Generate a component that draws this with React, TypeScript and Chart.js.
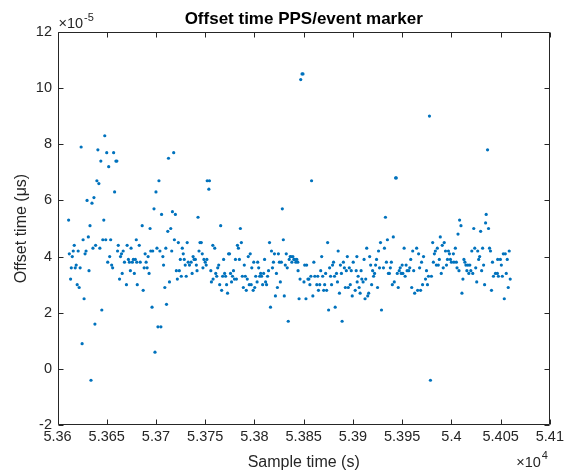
import React, { useEffect, useRef } from 'react';
import { Chart, registerables } from 'chart.js';

Chart.register(...registerables);

const chartTitle = 'Offset time PPS/event marker';
const xAxisLabel = 'Sample time (s)';
const yAxisLabel = 'Offset time (μs)';
const xTickValues = [53600, 53650, 53700, 53750, 53800, 53850, 53900, 53950, 54000, 54050, 54100];
const yTickValues = [-2, 0, 2, 4, 6, 8, 10, 12];
const xExponent = '4';
const yExponent = '-5';

// Sample time (s)
const sampleTime = [
  53611.3, 53612, 53613.3, 53614, 53615, 53616, 53617, 53618, 53619, 53620, 53621, 53622, 53623, 53624, 53625,
  53626, 53627, 53628, 53629, 53630, 53631.3, 53632, 53633, 53634, 53635, 53636, 53637, 53638, 53638.7, 53640,
  53641, 53642, 53643, 53644, 53645, 53646, 53647, 53648, 53649, 53650, 53651, 53652, 53653, 53654, 53655,
  53656, 53657, 53658, 53659.3, 53660.3, 53661, 53661.7, 53663, 53664, 53665, 53665.7, 53666.7, 53668, 53670, 53670.7,
  53672, 53673, 53674, 53674.7, 53676, 53677, 53678, 53679, 53680, 53680.5, 53681,
  53683, 53684, 53686, 53687, 53688, 53689, 53690, 53691, 53692, 53693, 53694, 53694.7, 53696, 53696.7, 53698,
  53699, 53700, 53701, 53702, 53703, 53704, 53705, 53705.7, 53707, 53707.7, 53709, 53710, 53710.7, 53712, 53712.7,
  53713.7, 53715, 53716, 53716.7, 53718, 53718.7, 53719.7, 53720.7, 53721.7, 53722.7, 53723.7, 53724.7, 53725.7, 53726.7, 53727.7,
  53728.7, 53729.7, 53730.7, 53731.7, 53732.7, 53734, 53735.7, 53736.7, 53737.7, 53738.7, 53740, 53741, 53741.7, 53742.7, 53743.7,
  53744.7, 53746, 53747, 53747.7, 53748.7, 53750, 53751, 53751.7, 53752, 53753.7, 53754.3, 53755.7, 53756.3, 53757.7, 53758,
  53759.7, 53760.7, 53761.7, 53762.7, 53763.7, 53764.7, 53765.7, 53766.7, 53767.7, 53768.7, 53769.7, 53770.7, 53771.7, 53772.7, 53773.7,
  53774.7, 53775.7, 53776.7, 53777.7, 53778.7, 53779.7, 53780.7, 53781.7, 53782.7, 53783.7, 53784.7, 53785.7, 53786.7, 53787.7, 53788.7,
  53789.7, 53790.7, 53791.7, 53792.7, 53793.7, 53794.7, 53795.7, 53796.7, 53797.3, 53798.7, 53799.3, 53800.3, 53801.3, 53802.7, 53803.3,
  53804.3, 53805.3, 53806.3, 53807.3, 53808.3, 53809.3, 53810.3, 53811.3, 53812.3, 53813.3, 53814.3, 53815.3, 53816.3, 53817.3, 53818.3,
  53819.3, 53820.3, 53821.3, 53822.3, 53823.3, 53824.3, 53825.3, 53826.3, 53827.3, 53828.3, 53829.3, 53830.3, 53831.3, 53832.3, 53833.3,
  53834.3, 53835.3, 53836.3,
  53837, 53838, 53839, 53840, 53841, 53842, 53843, 53844, 53844.3, 53845.3, 53846.3, 53847, 53848.3, 53849.3, 53850.3,
  53851, 53852.3, 53853, 53854.3, 53855.3, 53856.3, 53857.3, 53858, 53859.3, 53860.3, 53861.3, 53863.3, 53864.3, 53865, 53866.3,
  53867.3, 53868.3, 53869.3, 53870.3, 53871.3, 53872.3, 53873.3, 53874.3, 53875.3, 53876.3, 53877.3, 53878.3, 53879.3, 53880.3, 53881.3,
  53882, 53883.3, 53884.3, 53885, 53886.3, 53887.3, 53888.3, 53889, 53890.3, 53891.3, 53892.3, 53893.3, 53894.3, 53895.3, 53896.3,
  53897.3, 53898.3, 53899.3, 53900.3, 53902.3, 53903.3, 53904, 53904.3, 53905.3, 53906.3, 53907.3, 53908.3, 53909, 53910.3, 53911.3,
  53912.3, 53913, 53914,
  53915, 53916, 53917, 53918, 53919, 53920, 53921, 53922, 53923, 53924, 53925, 53926, 53927, 53928, 53929,
  53931, 53932, 53933, 53934, 53935, 53936, 53937, 53938, 53939, 53940, 53941, 53942, 53943.3, 53944, 53945,
  53946, 53947, 53948, 53949, 53950, 53950.7, 53952, 53953, 53954, 53955, 53956.7, 53957.7, 53958.7, 53959.7, 53960.7,
  53961.7, 53962.7, 53964.7, 53965.7, 53966.7, 53967.7, 53968.7, 53969.7, 53970.7, 53971.7, 53973.7, 53974.7, 53975.7, 53976.7, 53977.7,
  53978.7, 53979.7, 53981, 53981.7, 53982.7, 53983.7, 53984.7, 53985.7, 53986.7, 53987.7, 53988.7, 53989.7, 53990.7, 53991.7, 53992.7,
  53994, 53995, 53996, 53997, 53998, 53999, 54000, 54002, 54002.5, 54004, 54005, 54005.7, 54006.7, 54007.7, 54008.3,
  54009.7, 54010.7, 54011.7, 54012.7, 54013.7, 54014.7, 54015.7, 54016.7, 54017.7, 54018.7, 54019.7, 54020.7, 54021.7, 54022.7, 54023.7,
  54024.7, 54025.7, 54026.7, 54027.7, 54028.7, 54029.7, 54030.7, 54031.7, 54032.7, 54033.7, 54034.7, 54035.3, 54036.7, 54037.7, 54038.7,
  54039.7, 54040.7, 54041.7, 54042.7, 54044.7, 54046.7, 54047, 54047.7, 54049.7, 54050.7, 54051.7, 54052.7, 54053.7, 54054.7, 54055.7,
  54056.7, 54057.7, 54058.7, 54059.7,
];

// Offset time (×1e-5 s)
const offsetTime = [
  5.3, 4.1, 3.2, 3.6, 4.0, 4.2, 4.4, 3.6, 3.7, 3.0, 4.2, 2.9, 3.6, 7.9, 0.9,
  4.6, 2.5, 4.1, 4.2, 6.0, 4.7, 3.5, 5.1, -0.4, 5.9, 4.3, 6.1, 1.6, 4.4, 6.7,
  7.8, 6.6, 4.3, 7.4, 2.1, 4.6, 5.3, 8.3, 4.6, 7.7, 3.8, 7.2, 4.0, 4.6, 3.7,
  3.6, 7.7, 6.3, 7.4, 7.4, 4.2, 4.4, 3.2, 4.0, 4.1, 3.4, 4.2, 3.8, 3.0, 4.4,
  3.9, 3.8, 3.5, 4.3, 3.8, 3.9, 3.4, 3.9, 4.6, 3.8, 3.0,
  4.4, 3.8, 5.1, 2.8, 3.6, 4.1, 3.8, 3.6, 4.0, 3.4, 5.0, 4.2, 2.2, 4.2, 5.7,
  0.6, 6.3, 4.3, 1.5, 6.7, 4.2, 1.5, 5.5, 4.0, 3.7, 2.9, 4.3, 2.3, 4.9, 7.5,
  3.1, 5.0, 4.2, 5.6, 7.7, 4.6, 5.5, 3.5, 3.2, 4.5, 3.5, 3.9, 3.3, 4.3, 4.1,
  3.9, 3.7, 3.3, 4.5, 3.8, 3.7, 3.8, 3.4, 4.0, 3.9, 3.9, 3.7, 3.5, 5.4, 4.2,
  4.5, 4.5, 4.1, 3.6, 3.9, 3.8, 3.7, 3.9, 6.7, 6.4, 6.7, 3.5, 3.1, 4.4, 3.2,
  4.3, 3.4, 3.3, 3.6, 3.7, 3.0, 5.1, 2.8, 3.3, 3.9, 3.4, 3.3, 3.0, 2.7, 4.1,
  4.1, 3.4, 3.1, 3.3, 3.5, 3.2, 3.9, 3.2, 4.4, 4.3, 3.9, 5.0, 4.5, 3.3, 2.9,
  3.7, 3.3, 2.8, 3.2, 4.0, 3.0, 4.1, 3.0, 3.6, 2.8, 3.8, 2.9, 3.3, 3.1, 3.8,
  3.6, 3.3, 3.4, 3.3, 3.0, 3.4, 3.9, 3.1, 3.0, 3.3, 3.5, 4.5, 2.2, 4.2, 3.6,
  3.8, 4.1, 2.6, 3.4, 2.9, 4.1, 3.8, 3.1, 3.8, 5.7, 4.6, 2.6, 3.7, 4.1, 3.6,
  1.7, 3.9, 4.0,
  4.0, 3.8, 4.0, 3.9, 3.9, 3.8, 3.9, 3.8, 3.5, 2.5, 3.2, 10.3, 10.5, 10.5, 3.1,
  3.7, 2.5, 3.7, 3.2, 3.2, 3.0, 3.3, 6.7, 2.6, 3.8, 3.3, 3.0, 3.3, 2.8, 3.0,
  3.5, 4.0, 3.3, 2.8, 3.0, 3.4, 2.8, 4.5, 2.1, 3.6, 3.3, 3.0, 3.7, 3.8, 3.3,
  2.2, 3.4, 3.1, 4.2, 2.7, 3.7, 3.4, 1.7, 3.8, 3.6, 2.9, 3.5, 4.0, 2.9, 3.6,
  3.0, 3.5, 2.6, 3.8, 2.8, 3.5, 4.0, 3.1, 3.3, 2.9, 2.7, 3.5, 3.2, 3.1, 3.9,
  2.5, 3.2, 4.3,
  2.6, 2.7, 4.0, 3.7, 3.0, 3.5, 3.3, 3.4, 3.7, 3.9, 2.9, 4.2, 3.6, 4.5, 2.1,
  3.6, 4.3, 5.4, 3.8, 4.6, 3.4, 3.4, 3.6, 3.8, 3.0, 4.7, 3.1, 6.8, 6.8, 3.4,
  2.9, 3.5, 3.6, 3.4, 3.7, 3.4, 4.3, 3.3, 3.7, 3.5, 3.5, 3.6, 3.9, 2.9, 4.2,
  3.5, 2.7, 4.3, 2.8, 4.1, 3.6, 2.8, 3.8, 3.0, 4.0, 3.2, 3.5, 3.0, 3.3, 9.0,
  -0.4, 3.3, 4.5, 3.8, 4.1, 4.2, 3.7, 4.3, 3.7, 3.9, 4.7, 3.4, 4.4, 3.6, 4.5,
  4.2, 3.7, 3.9, 4.2, 4.1, 3.9, 3.8, 4.1, 3.8, 4.3, 3.8, 3.6, 4.8, 3.5, 5.3,
  5.1, 2.7, 3.2, 3.9, 3.8, 3.7, 3.5, 3.7, 3.4, 3.7, 3.5, 4.2, 3.4, 5.0, 4.3,
  3.6, 3.1, 4.2, 3.9, 4.0, 4.9, 3.5, 4.3, 3.7, 3.0, 5.2, 5.5, 7.8, 5.0, 4.3,
  4.2, 2.8, 3.8, 3.3, 3.4, 3.4, 3.9, 3.3, 3.9, 3.7, 3.3, 4.1, 2.5, 4.1, 3.4,
  3.9, 2.9, 4.2, 3.2,
];

const FONT = '"Liberation Sans", Arial, Helvetica, sans-serif';
const TEXT = '#262626';
const BLUE = '#0072BD';

export default function App() {
  const ref = useRef<HTMLCanvasElement | null>(null);

  useEffect(() => {
    if (!ref.current) return;
    const boxPlugin = {
      id: 'matlabBox',
      afterDraw(chart: any) {
        const { ctx, chartArea } = chart;
        const xs = chart.scales.x;
        const ys = chart.scales.y;
        const L = Math.round(chartArea.left) + 0.5;
        const R = Math.round(chartArea.right) - 0.5;
        const T = Math.round(chartArea.top) + 0.5;
        const B = Math.round(chartArea.bottom) - 0.5;
        ctx.save();
        ctx.strokeStyle = TEXT;
        ctx.lineWidth = 1;
        ctx.beginPath();
        ctx.rect(L, T, R - L, B - T);
        const tl = 5;
        xTickValues.forEach((v) => {
          const px = Math.round(xs.getPixelForValue(v)) + 0.5;
          ctx.moveTo(px, B);
          ctx.lineTo(px, B - tl);
          ctx.moveTo(px, T);
          ctx.lineTo(px, T + tl);
        });
        yTickValues.forEach((v) => {
          const py = Math.round(ys.getPixelForValue(v)) + 0.5;
          ctx.moveTo(L, py);
          ctx.lineTo(L + tl, py);
          ctx.moveTo(R, py);
          ctx.lineTo(R - tl, py);
        });
        ctx.stroke();

        ctx.fillStyle = '#000';
        ctx.font = `bold 17px ${FONT}`;
        ctx.textAlign = 'center';
        ctx.textBaseline = 'alphabetic';
        ctx.fillText(chartTitle, (chartArea.left + chartArea.right) / 2, 23.5);

        ctx.fillStyle = TEXT;
        ctx.textAlign = 'left';
        ctx.font = `14.5px ${FONT}`;
        const base = '\u00d710';
        ctx.fillText(base, chartArea.left + 1, 28);
        let w = ctx.measureText(base).width;
        ctx.font = `11px ${FONT}`;
        ctx.fillText(yExponent, chartArea.left + 1 + w + 1, 21);

        ctx.font = `14.5px ${FONT}`;
        w = ctx.measureText(base).width;
        ctx.font = `11px ${FONT}`;
        const ew = ctx.measureText(xExponent).width;
        const xr = chartArea.right - 2;
        ctx.fillText(xExponent, xr - ew, 459);
        ctx.font = `14.5px ${FONT}`;
        ctx.fillText(base, xr - ew - 1 - w, 467);
        ctx.restore();
      },
    };

    const chart = new Chart(ref.current, {
      type: 'scatter',
      data: {
        datasets: [
          {
            data: sampleTime.map((t, i) => ({ x: t, y: offsetTime[i] })),
            backgroundColor: BLUE,
            borderColor: BLUE,
            borderWidth: 0,
            pointRadius: 1.6,
            pointHoverRadius: 1.6,
          },
        ],
      },
      options: {
        responsive: false,
        animation: false,
        events: [],
        layout: { padding: { top: 31.8, right: 11.3, left: 0, bottom: 0 } },
        plugins: { legend: { display: false }, tooltip: { enabled: false }, title: { display: false } },
        scales: {
          x: {
            type: 'linear',
            min: 53600,
            max: 54100,
            afterBuildTicks: (s: any) => {
              s.ticks = xTickValues.map((v) => ({ value: v }));
            },
            afterFit: (s: any) => {
              s.height = 48.8;
            },
            ticks: {
              autoSkip: false,
              maxRotation: 0,
              padding: 3,
              color: TEXT,
              font: { family: FONT, size: 14.5 },
              callback: (v: any) => String(parseFloat((Number(v) / 1e4).toFixed(4))),
            },
            grid: { display: false, drawTicks: false },
            border: { display: false },
            title: {
              display: true,
              text: xAxisLabel,
              color: TEXT,
              font: { family: FONT, size: 16 },
              padding: { top: 0, bottom: 2 },
            },
          },
          y: {
            type: 'linear',
            min: -2,
            max: 12,
            afterBuildTicks: (s: any) => {
              s.ticks = yTickValues.map((v) => ({ value: v }));
            },
            afterFit: (s: any) => {
              s.width = 57.5;
            },
            ticks: {
              autoSkip: false,
              padding: 5.5,
              color: TEXT,
              font: { family: FONT, size: 14.5 },
              callback: (v: any) => String(v),
            },
            grid: { display: false, drawTicks: false },
            border: { display: false },
            title: {
              display: true,
              text: yAxisLabel,
              color: TEXT,
              font: { family: FONT, size: 16 },
              padding: { top: 12, bottom: 0 },
            },
          },
        },
      },
      plugins: [boxPlugin],
    });
    return () => chart.destroy();
  }, []);

  return (
    <div style={{ position: 'fixed', left: 0, top: 0, width: 567, height: 474, background: '#fff' }}>
      <canvas ref={ref} width={567} height={474} style={{ display: 'block', width: 567, height: 474 }} />
    </div>
  );
}
